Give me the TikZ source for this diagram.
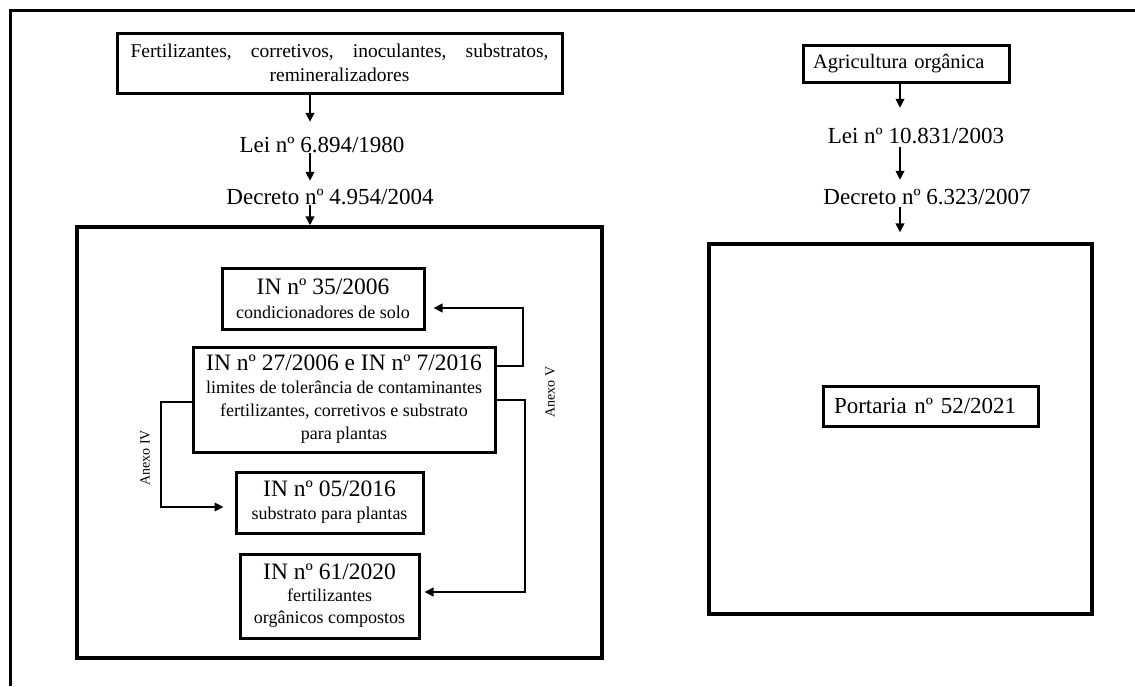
\documentclass[tikz,border=0pt]{standalone}
\usepackage{fontspec}
\setmainfont{Liberation Serif}
\usetikzlibrary{arrows.meta}
\newcommand{\fsz}[2]{\fontsize{#1}{#2}\selectfont}
\begin{document}
\begin{tikzpicture}[x=1pt,y=-1pt,
  box/.style={draw, line width=3pt, inner sep=0pt, align=center},
  lbl/.style={inner sep=0pt, text height=17pt, text depth=0pt, font=\fsz{23}{27}},
  anx/.style={inner sep=0pt, rotate=90, font=\fsz{14}{16}},
  arr/.style={line width=2.7pt, -{Triangle[length=9pt,width=8.5pt]}},
  conn/.style={line width=2.7pt}]
\useasboundingbox (0,0) rectangle (1135,686);
% outer frame
\draw[line width=3pt] (10,686) -- (10,10) -- (1135,10);
\coordinate (colL) at (310,0);
\coordinate (colR) at (900,0);
% left column
\node[box, minimum width=445, minimum height=60, font=\fsz{19.5}{24}] (fert) at (339.5,63)
  {\makebox[418pt][s]{Fertilizantes, corretivos, inoculantes, substratos,}\\remineralizadores};
\node[lbl] (lei1) at (322,143.5) {Lei nº 6.894/1980};
\node[lbl] (dec1) at (330,196) {Decreto nº 4.954/2004};
\node[box, line width=3.2pt, minimum width=525, minimum height=431] (bigL) at (339.5,442.5) {};
\node[box, minimum width=202, minimum height=61, font=\fsz{18}{23}] (in35) at (323,298.5)
  {{\fsz{23.5}{27}IN nº 35/2006}\\[1pt]condicionadores de solo};
\node[box, minimum width=302, minimum height=105, font=\fsz{18}{23}] (in27) at (344,399.5)
  {{\fsz{23.5}{27}IN nº 27/2006 e IN nº 7/2016}\\limites de tolerância de contaminantes\\fertilizantes, corretivos e substrato\\para plantas};
\node[box, minimum width=187, minimum height=61, font=\fsz{18}{23}] (in05) at (329.5,502.5)
  {{\fsz{23.5}{27}IN nº 05/2016}\\substrato para plantas};
\node[box, minimum width=179, minimum height=84, font=\fsz{18}{22}] (in61) at (329.5,596)
  {{\fsz{23.5}{27}IN nº 61/2020}\\fertilizantes\\orgânicos compostos};
\node[anx] (anx4) at (145,458) {Anexo IV};
\node[anx] (anx5) at (550,392) {Anexo V};
% right column
\node[box, minimum height=37, text width=186, inner xsep=10pt, align=left, font=\fsz{20.5}{24}] (agri) at (906,63.5) {Agricultura orgânica};
\node[lbl] (lei2) at (916,135) {Lei nº 10.831/2003};
\node[lbl] (dec2) at (927,196) {Decreto nº 6.323/2007};
\node[box, line width=3.2pt, minimum width=383, minimum height=370] (bigR) at (900.5,429) {};
\node[box, minimum height=40, text width=193, inner xsep=11pt, align=left, font=\fsz{23}{27}] (port) at (930.5,406) {Portaria nº 52/2021};
% vertical arrows left
\draw[arr, shorten >=13pt] (fert.south -| colL) -- (lei1.north -| colL);
\draw[arr, shorten <=1pt, shorten >=6.5pt] (lei1.south -| colL) -- (dec1.north -| colL);
\draw[arr] (dec1.south -| colL) -- (bigL.north -| colL);
% vertical arrows right
\draw[arr, shorten >=18.5pt] (agri.south -| colR) -- (lei2.north -| colR);
\draw[arr, shorten <=3pt, shorten >=7.5pt] (lei2.south -| colR) -- (dec2.north -| colR);
\draw[arr, shorten <=2.5pt, shorten >=10pt] (dec2.south -| colR) -- (bigR.north -| colR);
% Anexo V connectors
\coordinate (vt) at (523,308);
\coordinate (vb) at (523,366);
\draw[arr, shorten >=8pt] (in27.east |- vb) -- (vb) -- (vt) -- (in35.east |- vt);
\coordinate (wt) at (525,400);
\coordinate (wb) at (525,592);
\draw[arr, shorten >=4pt] (in27.east |- wt) -- (wt) -- (wb) -- (in61.east |- wb);
% Anexo IV connector
\coordinate (ut) at (161,402);
\coordinate (ub) at (161,507);
\draw[arr, shorten >=11pt] (in27.west |- ut) -- (ut) -- (ub) -- (in05.west |- ub);
\end{tikzpicture}
\end{document}
